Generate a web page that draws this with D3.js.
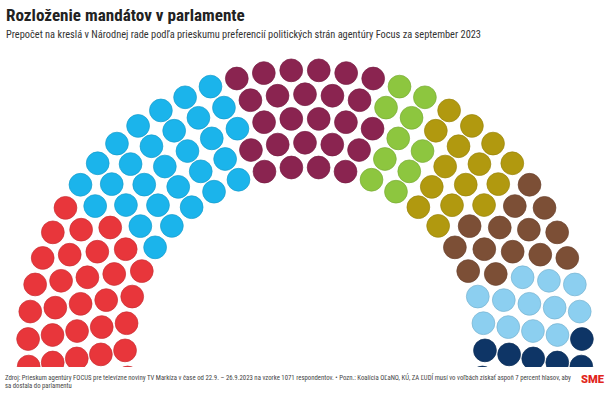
<!DOCTYPE html>
<html>
<head>
<meta charset="utf-8">
<script src="https://cdn.jsdelivr.net/npm/d3@7"></script>
<style>
  html, body { margin: 0; padding: 0; background: #ffffff; }
  svg { display: block; }
</style>
</head>
<body>
<svg id="chart" width="610" height="393"></svg>
<script>
// ---- data ----
const parties = ["Smer-SD", "PS", "Hlas-SD", "Republika", "SaS", "KDH", "OĽaNO a priatelia", "SNS"];
const seats = [33, 30, 25, 10, 15, 14, 12, 11];
const partyColors = ["#E8363B", "#1BB4EB", "#8A2450", "#8DC63F", "#B1990F", "#7C4F36", "#8CCFF0", "#0E3566"];
const rowSeats = [24, 27, 30, 33, 36]; // inner -> outer
const titleText = "Rozloženie mandátov v parlamente";
const subtitleText = "Prepočet na kreslá v Národnej rade podľa prieskumu preferencií politických strán agentúry Focus za september 2023";
const sourceLines = [
  "Zdroj: Prieskum agentúry FOCUS pre televízne noviny TV Markíza v čase od 22.9. – 26.9.2023 na vzorke 1071 respondentov. • Pozn.: Koalícia OĽaNO, KÚ, ZA ĽUDÍ musí vo voľbách získať aspoň 7 percent hlasov, aby",
  "sa dostala do parlamentu"
];

// ---- layout ----
const svg = d3.select("#chart");
const W = 610, H = 393;
const cx = 305, cy = 347;
const seatR = 11.4;
const extra = 9.75 * Math.PI / 180; // arc extends below the horizontal
const narrow = "'Roboto Condensed', 'Liberation Sans Narrow', 'DejaVu Sans Condensed', Roboto, sans-serif";

const rScale = d3.scaleLinear().domain([0, rowSeats.length - 1]).range([180, 277]);
const color = d3.scaleOrdinal().domain(parties).range(partyColors);

let allSeats = [];
rowSeats.forEach((n, row) => {
  const aScale = d3.scaleLinear().domain([0, n - 1]).range([-extra, Math.PI + extra]);
  const r = rScale(row);
  for (let k = 0; k < n; k++) {
    allSeats.push({ row, a: aScale(k), r });
  }
});
allSeats.sort((p, q) => d3.ascending(p.a, q.a) || d3.descending(p.r, q.r));

const cum = Array.from(d3.cumsum(seats));
allSeats.forEach((s, i) => {
  s.party = parties[d3.bisectRight(cum, i)];
  s.x = cx - s.r * Math.cos(s.a);
  s.y = cy - s.r * Math.sin(s.a);
});

svg.append("defs").append("clipPath").attr("id", "plotclip")
  .append("rect").attr("x", 0).attr("y", 0).attr("width", W).attr("height", 367);

svg.append("g").attr("clip-path", "url(#plotclip)")
  .selectAll("circle")
  .data(allSeats)
  .join("circle")
  .attr("cx", d => d.x)
  .attr("cy", d => d.y)
  .attr("r", seatR)
  .attr("fill", d => color(d.party))
  .attr("stroke", d => d3.color(color(d.party)).darker(0.4))
  .attr("stroke-width", 0.7);

// ---- texts: fit to measured widths ----
function fitText(sel, target) {
  const len = sel.node().getComputedTextLength();
  if (len > target) {
    const fs = parseFloat(sel.attr("font-size"));
    sel.attr("font-size", fs * target / len);
  } else {
    sel.attr("textLength", target).attr("lengthAdjust", "spacingAndGlyphs");
  }
}

fitText(svg.append("text")
  .attr("x", 6).attr("y", 21)
  .attr("font-family", narrow)
  .attr("font-weight", 700)
  .attr("font-size", 19)
  .attr("fill", "#222")
  .text(titleText), 239);

fitText(svg.append("text")
  .attr("x", 6).attr("y", 37.5)
  .attr("font-family", narrow)
  .attr("font-size", 10)
  .attr("fill", "#333")
  .text(subtitleText), 475);

sourceLines.forEach((t, i) => {
  fitText(svg.append("text")
    .attr("x", 5).attr("y", 379.5 + i * 8.5)
    .attr("font-family", narrow)
    .attr("font-size", 7)
    .attr("fill", "#444")
    .text(t), i === 0 ? 566 : 67);
});

fitText(svg.append("text")
  .attr("x", 581).attr("y", 382.5)
  .attr("font-family", "Roboto, 'Liberation Sans', sans-serif")
  .attr("font-weight", 900)
  .attr("font-size", 11.5)
  .attr("fill", "#E1251B")
  .text("SME"), 23);
</script>
</body>
</html>
